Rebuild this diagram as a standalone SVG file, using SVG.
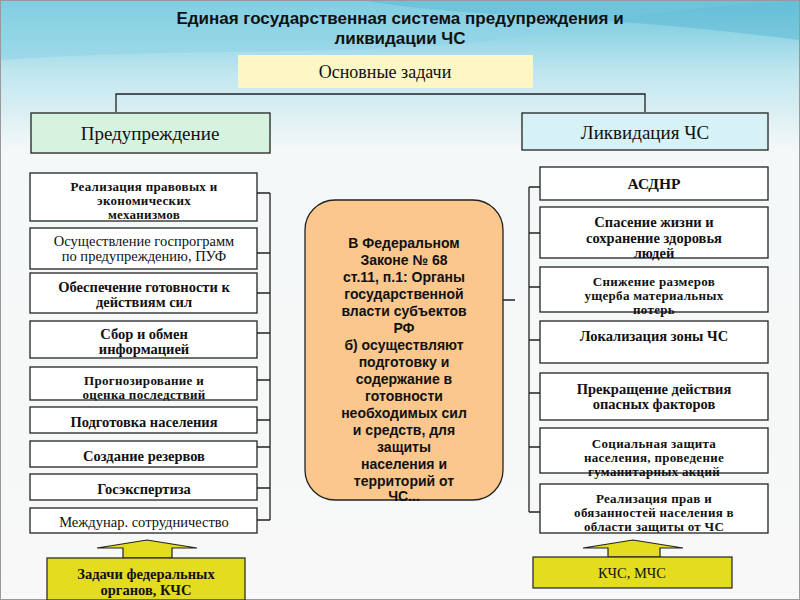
<svg xmlns="http://www.w3.org/2000/svg" width="800" height="600" viewBox="0 0 800 600">
<defs>
<linearGradient id="bg" x1="0" y1="0" x2="0" y2="1"><stop offset="0" stop-color="#6cc6dc"/><stop offset="0.12" stop-color="#bfe6ef"/><stop offset="0.25" stop-color="#f4f8f8"/><stop offset="1" stop-color="#f7f8f7"/></linearGradient>
<style>
.b{fill:#fff;stroke:#222;stroke-width:1.3}
.t{font-family:"Liberation Serif",serif;font-weight:bold;font-size:14.5px;fill:#111;text-anchor:middle}
.s{font-size:13px;letter-spacing:0.3px}
.n{font-weight:normal}
.c{fill:none;stroke:#222;stroke-width:1.3}
.y{fill:#e4dc1e;stroke:#222;stroke-width:1.2}
</style>
</defs>
<rect width="800" height="600" fill="url(#bg)"/>
<path d="M0,60 C200,45 420,60 560,30 C650,10 740,5 800,0 L800,0 L0,0 Z" fill="#8fd3e6" opacity="0.6"/>
<path d="M360,0 C480,20 560,10 800,40 L800,0 Z" fill="#5ab8d4" opacity="0.5"/>
<rect x="0" y="0" width="800" height="600" fill="none" stroke="#999" stroke-width="2"/>
<g id="title"><text x="400" y="24" style="font-family:'Liberation Sans',sans-serif;font-weight:bold;font-size:17px;text-anchor:middle;fill:#111">Единая государственная система предупреждения и</text><text x="400" y="44" style="font-family:'Liberation Sans',sans-serif;font-weight:bold;font-size:17px;text-anchor:middle;fill:#111">ликвидации ЧС</text></g>
<g id="connectors">
<path class="c" d="M116,112 V94 H645 V112"/>
<path class="c" d="M270,193 V520 M257,193 H270 M257,253 H270 M257,293 H270 M257,333 H270 M257,380 H270 M257,420 H270 M257,447 H270 M257,488 H270 M257,520 H270"/>
<path class="c" d="M529,187 V512 M529,187 H540 M529,233 H540 M529,287 H540 M529,340 H540 M529,393 H540 M529,447 H540 M529,512 H540 M503,300 H515"/>
</g>
<g id="main"><rect x="238" y="55" width="295" height="33" fill="#fcf7c4"/><text class="t n" x="385" y="78" style="font-size:18px">Основные задачи</text></g>
<g id="prev"><rect x="31" y="113" width="239" height="40" fill="#d6f3df" stroke="#222" stroke-width="1.3"/><text class="t n" x="150" y="140" style="font-size:19px">Предупреждение</text></g>
<g id="liq"><rect x="522" y="113" width="246" height="37" fill="#d6f2f7" stroke="#222" stroke-width="1.3"/><text class="t n" x="645" y="139" style="font-size:19px">Ликвидация ЧС</text></g>
<g id="l1"><rect class="b" x="30" y="173" width="227" height="48"/><text class="t s" x="144" y="191">Реализация правовых и</text><text class="t s" x="144" y="205">экономических</text><text class="t s" x="144" y="219">механизмов</text></g>
<g id="l2"><rect class="b" x="30" y="228" width="227" height="41"/><text class="t n" x="144" y="246">Осуществление госпрограмм</text><text class="t n" x="144" y="261">по предупреждению, ПУФ</text></g>
<g id="l3"><rect class="b" x="30" y="273" width="227" height="40"/><text class="t" x="144" y="292">Обеспечение готовности к</text><text class="t" x="144" y="307">действиям сил</text></g>
<g id="l4"><rect class="b" x="30" y="321" width="227" height="37"/><text class="t" x="144" y="339">Сбор и обмен</text><text class="t" x="144" y="354">информацией</text></g>
<g id="l5"><rect class="b" x="30" y="367" width="227" height="33"/><text class="t s" x="144" y="385">Прогнозирование и</text><text class="t s" x="144" y="399">оценка последствий</text></g>
<g id="l6"><rect class="b" x="30" y="407" width="227" height="26"/><text class="t" x="144" y="427">Подготовка населения</text></g>
<g id="l7"><rect class="b" x="30" y="441" width="227" height="26"/><text class="t" x="144" y="461">Создание резервов</text></g>
<g id="l8"><rect class="b" x="30" y="474" width="227" height="26"/><text class="t" x="144" y="494">Госэкспертиза</text></g>
<g id="l9"><rect class="b" x="30" y="508" width="227" height="25"/><text class="t n" x="144" y="527">Междунар. сотрудничество</text></g>
<g id="center"><rect x="305" y="200" width="198" height="300" rx="30" fill="#fbc78d" stroke="#222" stroke-width="1.3"/>
<g style="font-family:'Liberation Sans',sans-serif;font-weight:bold;font-size:14px;fill:#111;text-anchor:middle">
<text x="404" y="248">В Федеральном</text><text x="404" y="265">Законе № 68</text><text x="404" y="282">ст.11, п.1: Органы</text><text x="404" y="299">государственной</text><text x="404" y="316">власти субъектов</text><text x="404" y="333">РФ</text><text x="404" y="350">б)   осуществляют</text><text x="404" y="367">подготовку и</text><text x="404" y="384">содержание в</text><text x="404" y="401">готовности</text><text x="404" y="418">необходимых сил</text><text x="404" y="435">и средств, для</text><text x="404" y="452">защиты</text><text x="404" y="469">населения и</text><text x="404" y="486">территорий от</text><text x="404" y="501">ЧС...</text></g></g>
<g id="r1"><rect class="b" x="540" y="167" width="228" height="33"/><text class="t" x="654" y="189" style="font-size:15.5px">АСДНР</text></g>
<g id="r2"><rect class="b" x="540" y="207" width="228" height="51"/><text class="t" x="654" y="227">Спасение жизни и</text><text class="t" x="654" y="243">сохранение здоровья</text><text class="t" x="654" y="258">людей</text></g>
<g id="r3"><rect class="b" x="540" y="267" width="228" height="45"/><text class="t s" x="654" y="286">Снижение размеров</text><text class="t s" x="654" y="300">ущерба материальных</text><text class="t s" x="654" y="314">потерь</text></g>
<g id="r4"><rect class="b" x="540" y="321" width="228" height="42"/><text class="t" x="654" y="341">Локализация зоны ЧС</text></g>
<g id="r5"><rect class="b" x="540" y="373" width="228" height="47"/><text class="t" x="654" y="394">Прекращение действия</text><text class="t" x="654" y="409">опасных факторов</text></g>
<g id="r6"><rect class="b" x="540" y="428" width="228" height="45"/><text class="t s" x="654" y="448">Социальная защита</text><text class="t s" x="654" y="462">населения, проведение</text><text class="t s" x="654" y="476">гуманитарных акций</text></g>
<g id="r7"><rect class="b" x="540" y="484" width="228" height="49"/><text class="t s" x="654" y="503">Реализация прав и</text><text class="t s" x="654" y="517">обязанностей населения в</text><text class="t s" x="654" y="531">области защиты от ЧС</text></g>
<g id="fed"><path class="y" d="M123,558 V548 H97 L147,540 L197,548 H172 V558 Z"/><rect class="y" x="47" y="558" width="198" height="42"/><text class="t" x="146" y="579">Задачи федеральных</text><text class="t" x="146" y="595">органов, КЧС</text></g>
<g id="kchs"><path class="y" d="M608,557 V548 H583 L633,540 L683,548 H660 V557 Z"/><rect class="y" x="533" y="557" width="199" height="31"/><text class="t n" x="632" y="578">КЧС, МЧС</text></g>
</svg>
